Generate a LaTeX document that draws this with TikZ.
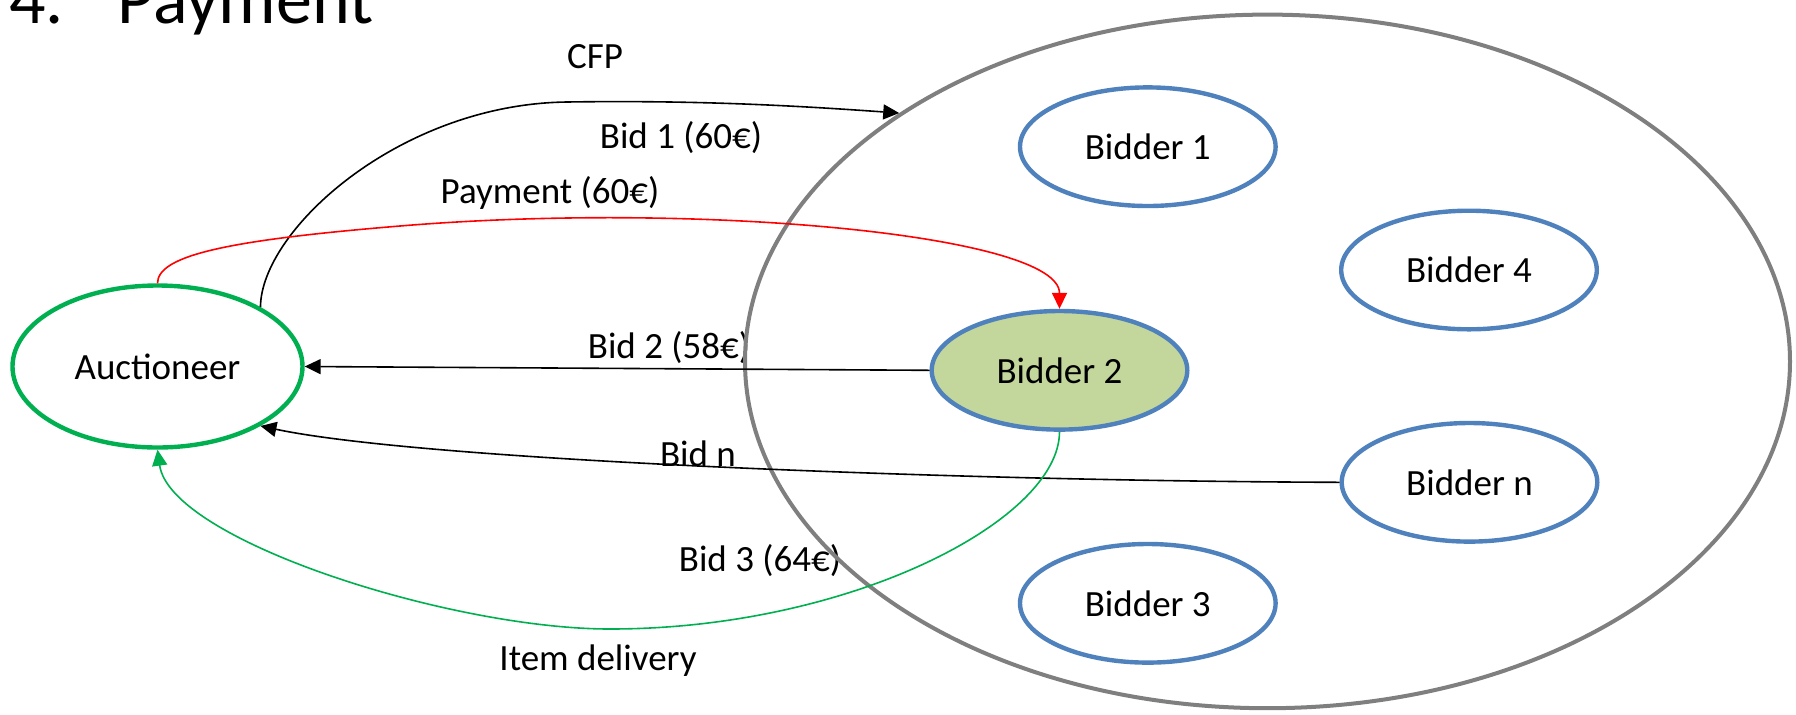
\documentclass[tikz,border=0pt]{standalone}
\usepackage{fontspec}
\setmainfont{Carlito}
\usetikzlibrary{shapes.geometric,arrows.meta,backgrounds}
\definecolor{auctgreen}{HTML}{00B050}
\definecolor{bidblue}{HTML}{4F81BD}
\definecolor{poolgray}{HTML}{7F7F7F}
\definecolor{winfill}{HTML}{C3D69B}
\definecolor{payred}{HTML}{FF0000}
\begin{document}
\begin{tikzpicture}[x=0.5pt,y=-0.5pt,
  every node/.style={font=\fontsize{18.5pt}{22pt}\selectfont},
  agent/.style={ellipse, draw=auctgreen, line width=2.2pt, fill=white, inner sep=0pt,
                minimum width=145pt, minimum height=81pt},
  bidder/.style={ellipse, draw=bidblue, line width=2.2pt, fill=white, inner sep=0pt,
                 minimum width=127.8pt, minimum height=59.3pt},
  pool/.style={ellipse, draw=poolgray, line width=2pt, inner sep=0pt,
               minimum width=522.5pt, minimum height=346.8pt},
  msg/.style={anchor=base, inner sep=0pt},
  heading/.style={anchor=base west, inner sep=0pt, font=\fontsize{36pt}{43pt}\selectfont},
  flow/.style={line width=0.8pt, -{Triangle[length=8pt,width=7.5pt]}},
]
\useasboundingbox (0,0) rectangle (1796,714);

% slide heading (partly above the frame)
\begin{scope}
  \clip (0,0) rectangle (1796,714);
  \node[heading] (num) at (9,23.3) {4.};
  \node[heading] (title) at (117,23.3) {Payment};
\end{scope}

% participants
\node[pool] (group) at (1267.5,361.4) {};
\node[agent] (auct) at (157.5,366.5) {Auctioneer};
\node[bidder] (bid1) at (1147.8,146.7) {Bidder 1};
\node[bidder] (bid4) at (1469,270) {Bidder 4};
\node[bidder, fill=winfill] (bid2) at (1059.5,370.3) {Bidder 2};
\node[bidder] (bidn) at (1469.5,482.3) {Bidder n};
\node[bidder] (bid3) at (1147.8,603.3) {Bidder 3};

% message labels
\begin{pgfonlayer}{background}
  \node[msg] (lcfp) at (595,68.3) {CFP};
  \node[msg] (lbid1) at (681,148.3) {Bid 1 (60€)};
  \node[msg] (lpay) at (550,203) {Payment (60€)};
  \node[msg] (lbid2) at (669,358.3) {Bid 2 (58€)};
  \node[msg] (lbidn) at (698,466.7) {Bid n};
  \node[msg] (lbid3) at (760,571.7) {Bid 3 (64€)};
  \node[msg] (litem) at (598,670) {Item delivery};
\end{pgfonlayer}

% call for proposals to all bidders
\draw[flow] (auct.30) .. controls (261,230) and (400,104) .. (567,102)
  .. controls (700,100) and (800,106) .. (group.146);

% payment to the winner
\draw[flow, color=payred] (auct.north) .. controls (157.5,255) and (230,240) .. (400,226)
  .. controls (700,201) and (1059.5,235) .. (bid2.north);

% bids back to the auctioneer
\draw[flow] (bid2.west) -- (auct.east);
\draw[flow] (bidn.west) .. controls (950,481) and (420,460) .. (auct.-30);

% delivery of the item
\draw[flow, color=auctgreen] (bid2.south) .. controls (1059.5,520) and (850,629) .. (610,629)
  .. controls (450,629) and (170,540) .. (auct.south);
\end{tikzpicture}
\end{document}
